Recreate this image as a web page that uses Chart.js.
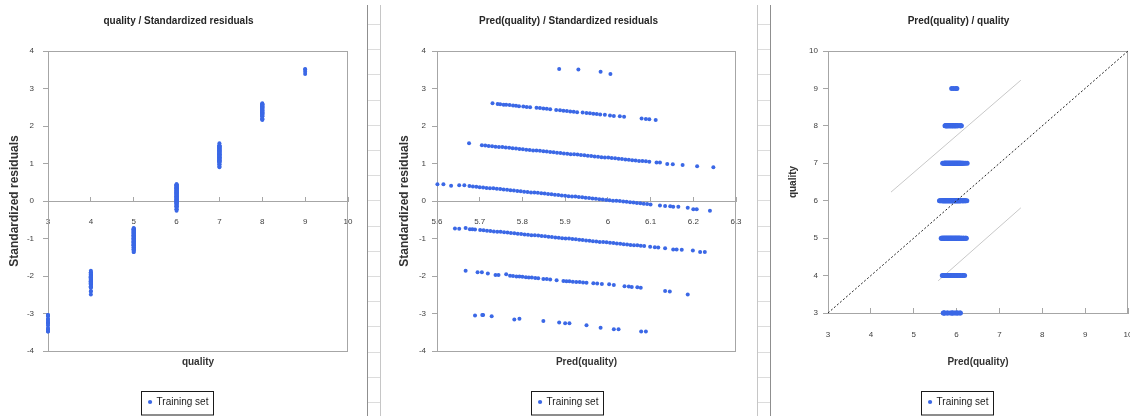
<!DOCTYPE html>
<html>
<head>
<meta charset="utf-8">
<title>Regression diagnostics</title>
<script src="https://cdn.jsdelivr.net/npm/chart.js@4.4.1/dist/chart.umd.min.js"></script>
<style>
  html, body { margin: 0; padding: 0; background: #fff; overflow: hidden; width: 1130px; height: 416px; }
  canvas { position: absolute; top: 0; }
  .gap { position: absolute; top: 5px; height: 411px; width: 12px; }
  .gap div { position: absolute; left: 0; width: 100%; height: 1px; background: #dcdcdc; }
</style>
</head>
<body>
<div class="gap" id="gapA" style="left:367px;border-left:1px solid #8f8f8f;border-right:1px solid #c6c6c6;"></div>
<div class="gap" id="gapB" style="left:757px;border-left:1px solid #c6c6c6;border-right:1px solid #8f8f8f;"></div>
<canvas id="c1" width="377" height="416" style="left:-10px"></canvas>
<canvas id="c2" width="377" height="416" style="left:380px"></canvas>
<canvas id="c3" width="377" height="416" style="left:770px"></canvas>
<script>
// Training observations grouped by observed quality:
// predicted quality and standardized residual of each observation.
const predQ3  = [5.689, 5.706, 5.708, 5.728, 5.781, 5.793, 5.849, 5.886, 5.900, 5.910, 5.950, 5.983, 6.014, 6.025, 6.078, 6.089];
const residQ3 = [-3.05, -3.04, -3.04, -3.07, -3.16, -3.14, -3.20, -3.24, -3.26, -3.26, -3.31, -3.38, -3.42, -3.42, -3.48, -3.48];

const predQ4  = [5.667, 5.695, 5.705, 5.719, 5.737, 5.744, 5.762, 5.771, 5.778, 5.786, 5.793, 5.800, 5.808, 5.815, 5.822, 5.830, 5.837, 5.849, 5.857, 5.865, 5.880, 5.896, 5.903, 5.910, 5.918, 5.926, 5.934, 5.942, 5.950, 5.966, 5.975, 5.986, 6.003, 6.014, 6.039, 6.049, 6.056, 6.069, 6.077, 6.134, 6.145, 6.187];
const residQ4 = [-1.86, -1.90, -1.90, -1.93, -1.97, -1.97, -1.95, -1.99, -2.00, -2.01, -2.01, -2.02, -2.03, -2.04, -2.04, -2.05, -2.06, -2.08, -2.08, -2.09, -2.11, -2.13, -2.14, -2.14, -2.15, -2.16, -2.16, -2.17, -2.18, -2.19, -2.20, -2.21, -2.22, -2.24, -2.27, -2.28, -2.29, -2.30, -2.31, -2.40, -2.41, -2.49];

const predQ5  = [5.642, 5.652, 5.667, 5.677, 5.683, 5.689, 5.701, 5.709, 5.717, 5.725, 5.733, 5.741, 5.749, 5.757, 5.765, 5.773, 5.781, 5.789, 5.797, 5.805, 5.813, 5.821, 5.829, 5.837, 5.845, 5.853, 5.861, 5.869, 5.877, 5.885, 5.893, 5.901, 5.909, 5.917, 5.925, 5.933, 5.941, 5.949, 5.957, 5.965, 5.973, 5.981, 5.989, 5.997, 6.005, 6.013, 6.021, 6.029, 6.037, 6.045, 6.053, 6.061, 6.069, 6.077, 6.085, 6.099, 6.110, 6.118, 6.134, 6.153, 6.161, 6.173, 6.199, 6.216, 6.227];
const residQ5 = [-0.73, -0.74, -0.72, -0.75, -0.75, -0.76, -0.77, -0.78, -0.79, -0.80, -0.81, -0.82, -0.82, -0.83, -0.84, -0.85, -0.86, -0.87, -0.88, -0.89, -0.90, -0.91, -0.91, -0.92, -0.93, -0.94, -0.95, -0.96, -0.97, -0.98, -0.99, -1.00, -1.00, -1.01, -1.02, -1.03, -1.04, -1.05, -1.06, -1.07, -1.08, -1.09, -1.09, -1.10, -1.11, -1.12, -1.13, -1.14, -1.15, -1.16, -1.17, -1.18, -1.18, -1.19, -1.20, -1.22, -1.23, -1.24, -1.26, -1.29, -1.29, -1.30, -1.32, -1.36, -1.36];

const predQ6  = [5.601, 5.615, 5.633, 5.652, 5.664, 5.676, 5.684, 5.692, 5.700, 5.708, 5.716, 5.724, 5.732, 5.740, 5.748, 5.756, 5.764, 5.772, 5.780, 5.788, 5.796, 5.804, 5.812, 5.820, 5.828, 5.836, 5.844, 5.852, 5.860, 5.868, 5.876, 5.884, 5.892, 5.900, 5.908, 5.916, 5.924, 5.932, 5.940, 5.948, 5.956, 5.964, 5.972, 5.980, 5.988, 5.996, 6.004, 6.012, 6.020, 6.028, 6.036, 6.044, 6.052, 6.060, 6.068, 6.076, 6.084, 6.092, 6.100, 6.122, 6.134, 6.146, 6.153, 6.165, 6.187, 6.200, 6.208, 6.239];
const residQ6 = [0.45, 0.45, 0.41, 0.42, 0.42, 0.40, 0.39, 0.38, 0.37, 0.36, 0.35, 0.34, 0.34, 0.33, 0.32, 0.31, 0.30, 0.29, 0.28, 0.27, 0.26, 0.25, 0.24, 0.23, 0.23, 0.22, 0.21, 0.20, 0.19, 0.18, 0.17, 0.16, 0.15, 0.14, 0.13, 0.12, 0.12, 0.11, 0.10, 0.09, 0.08, 0.07, 0.06, 0.05, 0.04, 0.03, 0.02, 0.01, 0.01, 0.00, -0.01, -0.02, -0.03, -0.04, -0.05, -0.06, -0.07, -0.08, -0.09, -0.12, -0.13, -0.14, -0.15, -0.15, -0.18, -0.22, -0.22, -0.26];

const predQ7  = [5.675, 5.705, 5.713, 5.721, 5.729, 5.737, 5.745, 5.753, 5.761, 5.769, 5.777, 5.785, 5.793, 5.801, 5.809, 5.817, 5.825, 5.833, 5.841, 5.849, 5.857, 5.865, 5.873, 5.881, 5.889, 5.897, 5.905, 5.913, 5.921, 5.929, 5.937, 5.945, 5.953, 5.961, 5.969, 5.977, 5.985, 5.993, 6.001, 6.009, 6.017, 6.025, 6.033, 6.041, 6.049, 6.057, 6.065, 6.073, 6.081, 6.089, 6.097, 6.114, 6.122, 6.139, 6.152, 6.175, 6.209, 6.247];
const residQ7 = [1.54, 1.49, 1.48, 1.47, 1.46, 1.45, 1.44, 1.44, 1.43, 1.42, 1.41, 1.40, 1.39, 1.38, 1.37, 1.36, 1.35, 1.35, 1.34, 1.33, 1.32, 1.31, 1.30, 1.29, 1.28, 1.27, 1.26, 1.25, 1.25, 1.24, 1.23, 1.22, 1.21, 1.20, 1.19, 1.18, 1.17, 1.16, 1.16, 1.15, 1.14, 1.13, 1.12, 1.11, 1.10, 1.09, 1.08, 1.07, 1.07, 1.06, 1.05, 1.03, 1.03, 0.99, 0.98, 0.96, 0.93, 0.90];

const predQ8  = [5.730, 5.742, 5.748, 5.756, 5.762, 5.770, 5.778, 5.785, 5.792, 5.802, 5.810, 5.818, 5.833, 5.841, 5.849, 5.857, 5.865, 5.879, 5.888, 5.896, 5.904, 5.912, 5.920, 5.928, 5.941, 5.950, 5.958, 5.966, 5.974, 5.982, 5.993, 6.005, 6.014, 6.028, 6.038, 6.079, 6.089, 6.097, 6.112];
const residQ8 = [2.61, 2.59, 2.58, 2.57, 2.57, 2.56, 2.55, 2.54, 2.53, 2.52, 2.51, 2.50, 2.49, 2.48, 2.47, 2.46, 2.45, 2.43, 2.42, 2.41, 2.40, 2.39, 2.38, 2.37, 2.36, 2.35, 2.34, 2.33, 2.32, 2.31, 2.30, 2.28, 2.27, 2.26, 2.25, 2.20, 2.19, 2.18, 2.16];

const predQ9  = [5.886, 5.931, 5.983, 6.006];
const residQ9 = [3.52, 3.51, 3.45, 3.39];

const qualityLevels = [3, 4, 5, 6, 7, 8, 9];
const predByLevel  = [predQ3, predQ4, predQ5, predQ6, predQ7, predQ8, predQ9];
const residByLevel = [residQ3, residQ4, residQ5, residQ6, residQ7, residQ8, residQ9];

// Reference lines of the Pred(quality) / quality panel
const identityLine = [[3, 3], [10, 10]];
const upperBound   = [[4.47, 6.23], [7.50, 9.22]];
const lowerBound   = [[5.57, 3.86], [7.50, 5.81]];

// Tick labels of the prediction axis
const predTickLabels = ['5.6', '5.7', '5.8', '5.9', '6', '6.1', '6.2', '6.3'];

// ---------------------------------------------------------------------------
const BLUE = '#3b68e6';
const AXIS = '#a6a6a6';
const FONT = "'Liberation Sans', Arial, sans-serif";

function collect(pick) {
  const pts = [];
  qualityLevels.forEach((q, i) => {
    const p = predByLevel[i], r = residByLevel[i];
    const n = Math.min(p.length, r.length);
    for (let k = 0; k < n; k++) pts.push(pick(q, p[k], r[k]));
  });
  return pts;
}
const pairs = arr => arr.map(([x, y]) => ({x, y}));

// Gray frame round each plot area
const plotFrame = {
  id: 'plotFrame',
  beforeDatasetsDraw(chart) {
    const {ctx, chartArea: a} = chart;
    ctx.save();
    ctx.strokeStyle = AXIS;
    ctx.lineWidth = 1;
    ctx.strokeRect(Math.round(a.left) + 0.5, Math.round(a.top) + 0.5,
                   Math.round(a.right - a.left) - 1, Math.round(a.bottom - a.top));
    ctx.restore();
  }
};
// Thin black box round the legend
const legendBox = {
  id: 'legendBox',
  afterDraw(chart) {
    const lg = chart.legend;
    if (!lg || !lg.legendHitBoxes || !lg.legendHitBoxes.length) return;
    const hb = lg.legendHitBoxes[0];
    const {ctx} = chart;
    const left = Math.round(hb.left - 8) + 0.5;
    const right = Math.round(hb.left + hb.width + 5) + 0.5;
    const top = Math.round(lg.top) + 0.5;
    ctx.save();
    ctx.strokeStyle = '#1a1a1a';
    ctx.lineWidth = 1;
    ctx.strokeRect(left, top, right - left, 415 - top);
    ctx.restore();
  }
};

const tickFont  = {family: FONT, size: 8};
const titleFont = {family: FONT, size: 10, weight: 'bold'};

// Keep the tick-label overhang from shrinking the plot area
function noEdgePadding(s) { s.paddingLeft = 0; s.paddingRight = 0; s.paddingTop = 0; s.paddingBottom = 0; }

function yAxis(min, max, text, width, tickPad, titleSize, titlePad) {
  return {
    type: 'linear', position: 'left', min, max,
    ticks: {stepSize: 1, padding: tickPad, color: '#404040', font: tickFont},
    grid: {display: true, drawOnChartArea: false, tickLength: 5, color: AXIS},
    border: {display: true, color: AXIS},
    title: {display: true, text, color: '#333', font: {family: FONT, size: titleSize, weight: 'bold'},
            padding: {top: titlePad, bottom: 0}},
    afterFit(s) { s.width = width; noEdgePadding(s); }
  };
}
// Empty strip on the right of the plot area
function rightGutter(width) {
  return {
    type: 'linear', position: 'right',
    ticks: {display: false}, grid: {display: false}, border: {display: false},
    afterFit(s) { s.width = width; noEdgePadding(s); }
  };
}

function baseOptions(title, scales) {
  return {
    responsive: false,
    animation: false,
    devicePixelRatio: 1,
    layout: {padding: 0},
    scales,
    plugins: {
      title: {display: true, text: title, color: '#262626', font: {family: FONT, size: 10, weight: 'bold'},
              padding: {top: 15, bottom: 24}},
      legend: {
        position: 'bottom', maxHeight: 25,
        labels: {
          usePointStyle: true, pointStyle: 'circle', boxWidth: 3, boxHeight: 3, padding: 6,
          color: '#1a1a1a', font: {family: FONT, size: 10},
          filter: item => item.text === 'Training set'
        }
      },
      tooltip: {enabled: false}
    }
  };
}

function pointSet(data, radius) {
  return {
    type: 'scatter', label: 'Training set', data,
    backgroundColor: BLUE, borderColor: BLUE, borderWidth: 0,
    pointRadius: radius, pointHoverRadius: radius, clip: false, order: 1
  };
}

// Residual panels: horizontal axis crosses at zero
function residualChart(id, title, xTitle, xMin, xMax, xStep, xLabels, data, yW, yTickPad, rightW) {
  return new Chart(document.getElementById(id), {
    type: 'scatter',
    data: {datasets: [pointSet(data, 2)]},
    options: baseOptions(title, {
      x: {
        type: 'linear', min: xMin, max: xMax, position: {y: 0},
        ticks: {stepSize: xStep, padding: 21.2, color: '#404040', font: tickFont,
                callback: (v, i) => xLabels ? xLabels[i] : String(v)},
        grid: {display: true, drawOnChartArea: false, tickLength: -5, color: AXIS},
        border: {display: true, color: AXIS},
        afterFit(s) { s.height = 0; noEdgePadding(s); }
      },
      xTitle: {
        type: 'linear', axis: 'x', min: xMin, max: xMax, position: 'bottom',
        ticks: {display: false}, grid: {display: false}, border: {display: false},
        title: {display: true, text: xTitle, color: '#333', font: titleFont, padding: {top: 0, bottom: 23}},
        afterFit(s) { s.height = 40; noEdgePadding(s); }
      },
      y: yAxis(-4, 4, 'Standardized residuals', yW, yTickPad, 12, 17.8),
      yGutter: rightGutter(rightW)
    }),
    plugins: [plotFrame, legendBox]
  });
}

residualChart('c1', 'quality / Standardized residuals', 'quality', 3, 10, 1, null,
  collect((q, p, r) => ({x: q, y: r})), 58, 9, 19);

residualChart('c2', 'Pred(quality) / Standardized residuals', 'Pred(quality)', 5.6, 6.3, 0.1, predTickLabels,
  collect((q, p, r) => ({x: p, y: r})), 57, 6, 21);

// Predicted versus observed quality
new Chart(document.getElementById('c3'), {
  type: 'scatter',
  data: {
    datasets: [
      pointSet(collect((q, p, r) => ({x: p, y: q})), 2.5),
      {type: 'scatter', label: 'identity', data: pairs(identityLine), showLine: true, pointRadius: 0,
       borderColor: '#222', borderWidth: 1, borderDash: [2, 2], clip: false, order: 0},
      {type: 'scatter', label: 'upper', data: pairs(upperBound), showLine: true, pointRadius: 0,
       borderColor: '#c8c8c8', borderWidth: 1, order: 2},
      {type: 'scatter', label: 'lower', data: pairs(lowerBound), showLine: true, pointRadius: 0,
       borderColor: '#c8c8c8', borderWidth: 1, order: 2}
    ]
  },
  options: baseOptions('Pred(quality) / quality', {
    x: {
      type: 'linear', min: 3, max: 10, position: 'bottom',
      ticks: {stepSize: 1, padding: 22.2, color: '#404040', font: tickFont},
      grid: {display: true, drawOnChartArea: false, tickLength: -5, color: AXIS},
      border: {display: true, color: AXIS},
      title: {display: true, text: 'Pred(quality)', color: '#333', font: titleFont, padding: {top: 0, bottom: 23}},
      afterFit(s) { s.height = 78; noEdgePadding(s); }
    },
    y: yAxis(3, 10, 'quality', 58, 5, 10, 17),
    yGutter: rightGutter(19)
  }),
  plugins: [plotFrame, legendBox]
});

// Worksheet row lines visible between the chart objects
['gapA', 'gapB'].forEach(id => {
  const g = document.getElementById(id);
  for (let k = 0; k < 16; k++) {
    const d = document.createElement('div');
    d.style.top = (19 + 25.2 * k).toFixed(0) + 'px';
    g.appendChild(d);
  }
});
</script>
</body>
</html>
